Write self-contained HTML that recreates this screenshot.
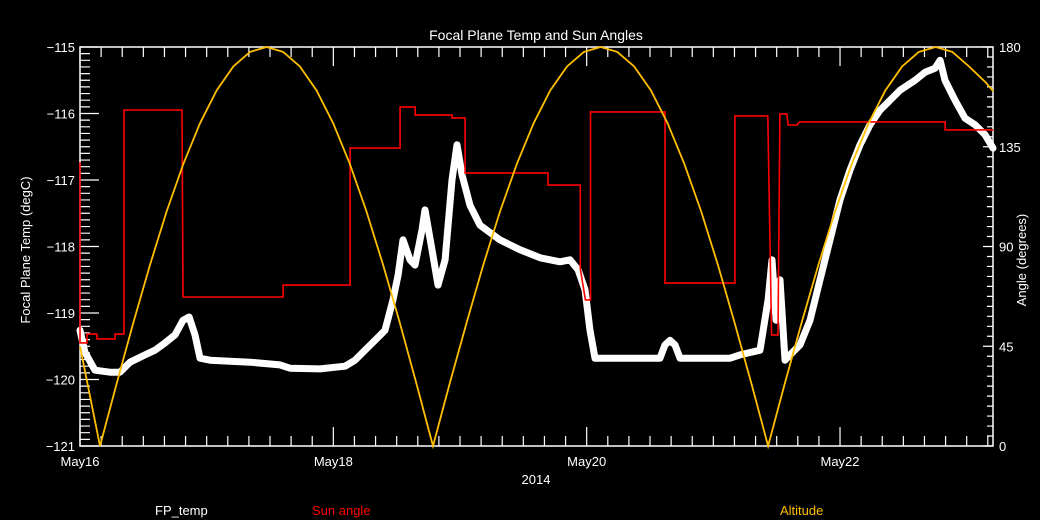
<!DOCTYPE html>
<html><head><meta charset="utf-8"><style>
html,body{margin:0;padding:0;background:#000;}
svg{display:block;font-family:"Liberation Sans",sans-serif;}
</style></head><body>
<svg id="chart" width="1040" height="520" viewBox="0 0 1040 520" xmlns="http://www.w3.org/2000/svg">
<rect width="1040" height="520" fill="#000"/>
<text x="536" y="40" fill="#fff" font-size="14" text-anchor="middle">Focal Plane Temp and Sun Angles</text>
<text transform="translate(30,250) rotate(-90)" fill="#fff" font-size="13" text-anchor="middle">Focal Plane Temp (degC)</text>
<text transform="translate(1026,260) rotate(-90)" fill="#fff" font-size="13" text-anchor="middle">Angle (degrees)</text>
<text x="536" y="484" fill="#fff" font-size="13" text-anchor="middle">2014</text>
<text x="155" y="515" fill="#fff" font-size="13">FP_temp</text>
<text x="312" y="515" fill="#ff0000" font-size="13">Sun angle</text>
<text x="780" y="515" fill="#ffbf00" font-size="13">Altitude</text>
<g id="axes"></g>
<g id="series"></g>
</svg>
<script>
const xTickLabels=["May16","May18","May20","May22"];
const xTickDays=[0,2,4,6];
const yLeftTicks=[-121,-120,-119,-118,-117,-116,-115];
const yRightTicks=[0,45,90,135,180];
const tempT=[0,0.039,0.118,0.237,0.316,0.395,0.513,0.592,0.671,0.75,0.813,0.861,0.908,0.947,1.026,1.342,1.579,1.658,1.895,2.092,2.171,2.25,2.329,2.408,2.471,2.511,2.55,2.605,2.645,2.7,2.724,2.779,2.826,2.882,2.937,2.976,3.016,3.079,3.158,3.316,3.474,3.632,3.789,3.868,3.932,3.987,4.026,4.066,4.579,4.618,4.658,4.697,4.737,5.132,5.21,5.368,5.432,5.463,5.495,5.526,5.566,5.605,5.684,5.763,5.842,5.921,6.0,6.079,6.158,6.237,6.316,6.395,6.474,6.592,6.671,6.75,6.79,6.829,6.908,6.987,7.066,7.145,7.208];
const tempV=[-119.26,-119.59,-119.86,-119.89,-119.89,-119.74,-119.63,-119.56,-119.45,-119.33,-119.11,-119.06,-119.33,-119.68,-119.71,-119.74,-119.78,-119.83,-119.84,-119.80,-119.71,-119.56,-119.41,-119.26,-118.80,-118.43,-117.90,-118.20,-118.28,-117.75,-117.45,-118.05,-118.58,-118.20,-117.00,-116.47,-116.92,-117.38,-117.68,-117.90,-118.05,-118.17,-118.23,-118.20,-118.35,-118.65,-119.26,-119.68,-119.68,-119.48,-119.41,-119.48,-119.68,-119.68,-119.63,-119.56,-118.80,-118.20,-119.11,-118.50,-119.71,-119.63,-119.48,-119.11,-118.50,-117.90,-117.30,-116.85,-116.47,-116.17,-115.95,-115.80,-115.65,-115.50,-115.38,-115.32,-115.20,-115.50,-115.80,-116.07,-116.17,-116.32,-116.52];
const sunT=[0,0,0.055,0.055,0.134,0.134,0.276,0.276,0.347,0.347,0.805,0.813,1.603,1.603,2.132,2.132,2.527,2.527,2.646,2.646,2.937,2.937,3.04,3.04,3.695,3.695,3.95,3.95,3.99,4.03,4.03,4.618,4.618,5.17,5.17,5.43,5.46,5.51,5.525,5.58,5.59,5.66,5.68,6.83,6.83,7.21];
const sunV=[128,46.5,46.5,50.5,50.5,48.3,48.3,50.5,50.5,151.6,151.6,67.2,67.2,72.6,72.6,134.4,134.4,152.9,152.9,149.3,149.3,148,148,123.2,123.2,117.7,117.7,80,65.9,65.9,150.7,150.7,73.5,73.5,148.9,148.9,50.1,50.1,149.8,149.8,144.8,144.8,146.2,146.2,142.6,142.6];
const altT=[0,0.158,0.290,0.421,0.553,0.684,0.816,0.947,1.079,1.210,1.342,1.473,1.604,1.736,1.867,1.999,2.130,2.262,2.393,2.525,2.656,2.787,2.919,3.052,3.184,3.316,3.449,3.581,3.713,3.845,3.978,4.110,4.242,4.375,4.507,4.639,4.771,4.904,5.036,5.168,5.300,5.432,5.564,5.697,5.829,5.961,6.093,6.226,6.358,6.490,6.622,6.755,6.887,7.019,7.151,7.21];
const altV=[45,0,28.2,55.6,81.7,105.8,127.3,145.6,160.4,171.2,177.8,180,177.8,171.2,160.4,145.6,127.3,105.8,81.7,55.6,28.2,0,28.2,55.6,81.7,105.8,127.3,145.6,160.4,171.2,177.8,180,177.8,171.2,160.4,145.6,127.3,105.8,81.7,55.6,28.2,0,28.2,55.6,81.7,105.8,127.3,145.6,160.4,171.2,177.8,180,177.8,171.2,164,160];

const L=80,R=993,T=47,B=446,dayPx=126.67;
const xs=t=>L+t*dayPx;
const yL=v=>T+(-115-v)*(B-T)/6;
const yR=a=>B-a*(B-T)/180;
const NS="http://www.w3.org/2000/svg";
function mk(tag,parent){const e=document.createElementNS(NS,tag);parent.appendChild(e);return e;}
const axes=document.getElementById('axes'),series=document.getElementById('series');

const frame=mk('rect',axes);


frame.setAttribute('x',L);frame.setAttribute('y',T);frame.setAttribute('width',R-L);frame.setAttribute('height',B-T);
frame.setAttribute('fill','none');frame.setAttribute('stroke','#fff');frame.setAttribute('stroke-width','1.5');

let d='';
// x ticks every 4h
for(let h=0;L+h/24*dayPx<=R+0.5;h+=4){const x=L+h/24*dayPx;const len=(h%48===0)?19:10;d+=`M${x},${B}v${-len}M${x},${T}v${len}`;}
// left y ticks
for(let i=0;i<=60;i++){const v=-121+i/10;const y=yL(v);const len=(i%10===0)?19:10;d+=`M${L},${y}h${len}`;}
// right y ticks
for(let i=0;i<=40;i++){const a=i*4.5;const y=yR(a);const len=(i%10===0)?10:6;d+=`M${R},${y}h${-len}`;}
const tk=mk('path',axes);


tk.setAttribute('d',d);tk.setAttribute('stroke','#fff');tk.setAttribute('stroke-width','1.2');

xTickLabels.forEach((s,i)=>{const t=mk('text',axes);


t.setAttribute('x',xs(xTickDays[i]));t.setAttribute('y',466);t.setAttribute('fill','#fff');t.setAttribute('font-size','13');t.setAttribute('text-anchor','middle');t.textContent=s;});
yLeftTicks.forEach(v=>{const t=mk('text',axes);


t.setAttribute('x',75);t.setAttribute('y',yL(v)+5);t.setAttribute('fill','#fff');t.setAttribute('font-size','13');t.setAttribute('text-anchor','end');t.textContent='\u2212'+Math.abs(v);});
yRightTicks.forEach(a=>{const t=mk('text',axes);


t.setAttribute('x',999);t.setAttribute('y',yR(a)+5);t.setAttribute('fill','#fff');t.setAttribute('font-size','13');t.textContent=a;});

function pts(ta,va,fy){return ta.map((t,i)=>xs(t).toFixed(1)+','+fy(va[i]).toFixed(1)).join(' ');}
const tl=mk('polyline',series);


tl.setAttribute('points',pts(tempT,tempV,yL));tl.setAttribute('fill','none');tl.setAttribute('stroke','#fff');tl.setAttribute('stroke-width','7');tl.setAttribute('stroke-linejoin','round');tl.setAttribute('stroke-linecap','round');
const sl=mk('polyline',series);


sl.setAttribute('points',pts(sunT,sunV,yR));sl.setAttribute('fill','none');sl.setAttribute('stroke','#ff0000');sl.setAttribute('stroke-width','1.6');
const al=mk('polyline',series);


al.setAttribute('points',pts(altT,altV,yR));al.setAttribute('fill','none');al.setAttribute('stroke','#ffbf00');al.setAttribute('stroke-width','1.8');
</script>
</body></html>
